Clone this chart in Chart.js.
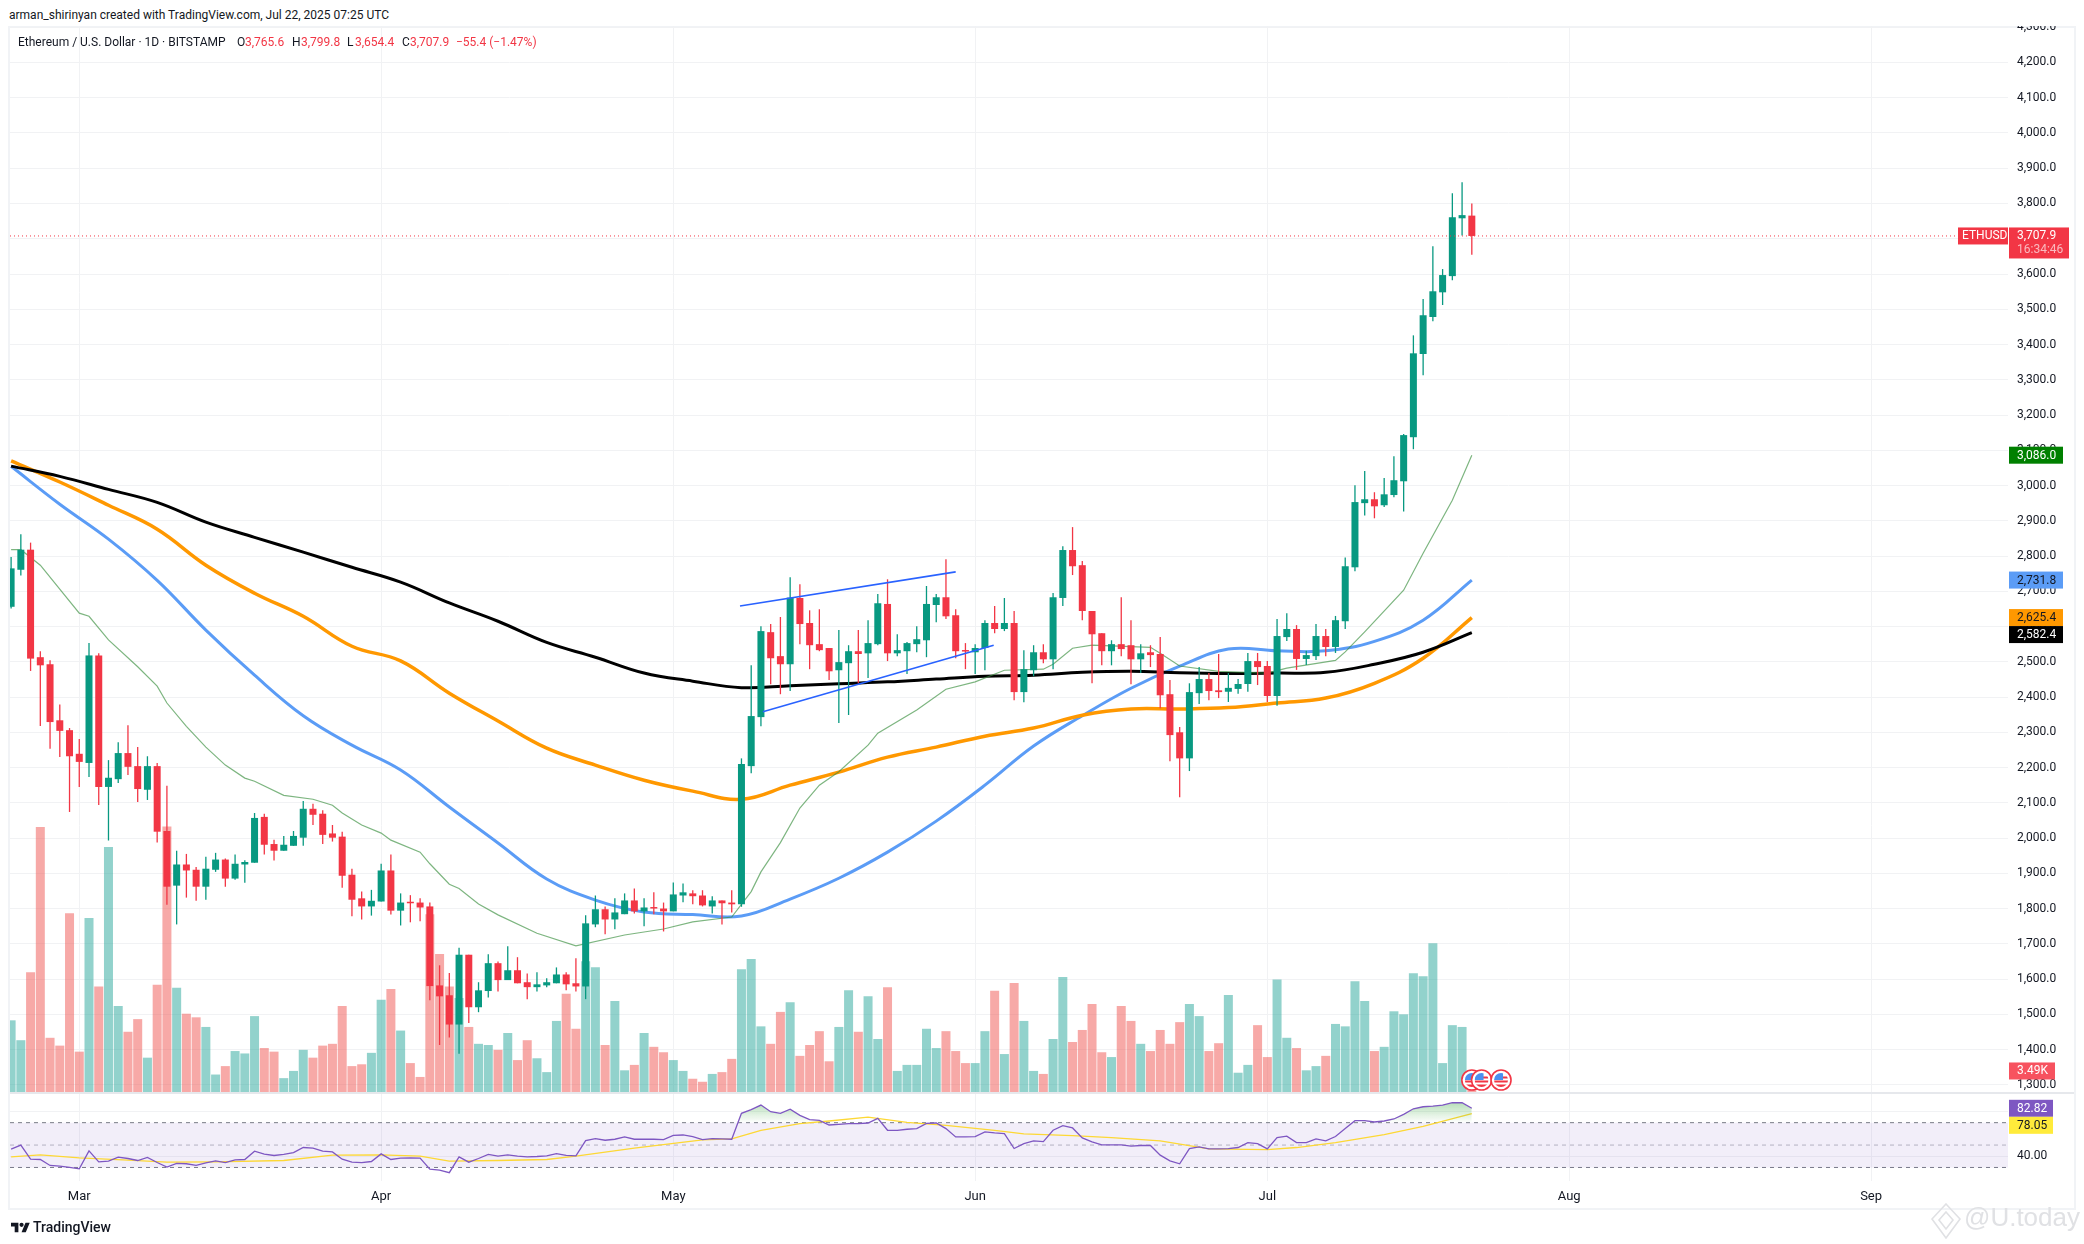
<!DOCTYPE html>
<html>
<head>
<meta charset="utf-8">
<title>Ethereum / U.S. Dollar</title>
<script src="https://cdn.jsdelivr.net/npm/chart.js@4/dist/chart.umd.min.js"></script>
<style>
  html, body { margin: 0; padding: 0; background: #fff; }
  body { width: 2084px; height: 1244px; position: relative; overflow: hidden; font-family: Roboto, sans-serif; color: #131722; }
  canvas { position: absolute; left: 0; }
  .frame { position: absolute; left: 8px; top: 26px; width: 2064px; height: 1180px; border: 2px solid #f1f3f6; }
  .sep { position: absolute; left: 10px; top: 1092px; width: 2064px; height: 2px; background: #e6e8ec; }
  .t { position: absolute; font-size: 12px; line-height: 16px; white-space: pre; }
  .r { color: #f23645; }
</style>
</head>
<body>
<div class="frame"></div>
<canvas id="price-chart" width="2084" height="1067" style="top:26px"></canvas>
<div class="sep"></div>
<canvas id="rsi-chart" width="2084" height="151" style="top:1093px"></canvas>

<div class="t" style="left:9px;top:7px">arman_shirinyan created with TradingView.com, Jul 22, 2025 07:25 UTC</div>
<div class="t" style="left:18px;top:34px">Ethereum / U.S. Dollar · 1D · BITSTAMP</div>
<div class="t" style="left:237px;top:34px">O</div><div class="t r" style="left:245px;top:34px">3,765.6</div>
<div class="t" style="left:292px;top:34px">H</div><div class="t r" style="left:301px;top:34px">3,799.8</div>
<div class="t" style="left:347px;top:34px">L</div><div class="t r" style="left:355px;top:34px">3,654.4</div>
<div class="t" style="left:402px;top:34px">C</div><div class="t r" style="left:410px;top:34px">3,707.9</div>
<div class="t r" style="left:456px;top:34px">−55.4 (−1.47%)</div>

<svg style="position:absolute;left:11px;top:1221px" width="19" height="13" viewBox="0 2 36 22"><path d="M14 22H7V11H0V4h14v18zM28 22h-8l7.5-18h8L28 22z" fill="#131722"/><circle cx="20" cy="8" r="4" fill="#131722"/></svg>
<div class="t" style="left:33px;top:1219px;font-size:14px;font-weight:500">TradingView</div>

<svg style="position:absolute;left:1930px;top:1203px" width="32" height="36" viewBox="0 0 32 36" fill="none" stroke="#e0e1e4" stroke-width="1.6"><path d="M16 1l14 15-14 19L2 16z"/><path d="M16 9l7 8-7 9-7-9z"/></svg>
<div style="position:absolute;left:1964px;top:1201px;font:26px/32px 'Liberation Sans',sans-serif;color:#e0e1e4;white-space:pre">@U.today</div>

<script>
// ─── Data ───────────────────────────────────────────────────────────────────

// candles run day by day from Feb 22 (day 0) to Jul 22 (day 150)
const opens = [
  2656, 2761, 2818, 2513, 2493, 2334, 2306, 2239, 2213, 2518, 2145, 2167, 2241, 2204, 2137, 2204,
  2020, 1865, 1925, 1910, 1862, 1910, 1939, 1885, 1925, 1930, 2060, 1983, 1964, 1978, 2001, 2083,
  2069, 2013, 2004, 1896, 1829, 1806, 1820, 1908, 1794, 1817, 1817, 1806, 1582, 1554, 1471, 1669,
  1520, 1566, 1645, 1597, 1625, 1591, 1577, 1582, 1588, 1613, 1588, 1579, 1755, 1798, 1769, 1784,
  1823, 1792, 1803, 1800, 1792, 1837, 1843, 1837, 1806, 1823, 1817, 1812, 2204, 2343, 2584, 2516,
  2493, 2681, 2610, 2550, 2539, 2476, 2496, 2530, 2524, 2550, 2664, 2524, 2530, 2550, 2561, 2661,
  2683, 2632, 2532, 2527, 2539, 2610, 2593, 2610, 2414, 2476, 2527, 2507, 2681, 2817, 2774, 2644,
  2581, 2530, 2550, 2547, 2507, 2527, 2522, 2408, 2300, 2226, 2411, 2451, 2419, 2415, 2423, 2437,
  2502, 2488, 2403, 2570, 2593, 2508, 2516, 2573, 2542, 2615, 2768, 2950, 2961, 2944, 2973, 3012,
  3137, 3373, 3478, 3548, 3594, 3758, 3765.6,
];
const highs = [
  2797, 2862, 2838, 2530, 2504, 2379, 2312, 2281, 2553, 2524, 2221, 2272, 2320, 2258, 2232, 2213,
  2148, 1964, 1955, 1918, 1947, 1958, 1942, 1953, 1937, 2071, 2069, 1995, 2006, 2020, 2105, 2097,
  2079, 2037, 2018, 1913, 1848, 1853, 1927, 1953, 1843, 1838, 1829, 1817, 1639, 1617, 1689, 1669,
  1591, 1670, 1650, 1693, 1662, 1616, 1619, 1602, 1633, 1619, 1659, 1781, 1837, 1806, 1829, 1843,
  1857, 1829, 1846, 1817, 1874, 1871, 1852, 1852, 1835, 1823, 1852, 2226, 2490, 2601, 2607, 2627,
  2740, 2720, 2646, 2649, 2539, 2590, 2547, 2590, 2618, 2692, 2734, 2578, 2556, 2601, 2715, 2692,
  2791, 2649, 2553, 2550, 2618, 2658, 2681, 2644, 2533, 2547, 2550, 2695, 2828, 2882, 2786, 2644,
  2581, 2561, 2683, 2618, 2550, 2547, 2570, 2448, 2315, 2439, 2485, 2468, 2522, 2468, 2451, 2525,
  2525, 2502, 2621, 2638, 2604, 2531, 2607, 2593, 2630, 2796, 3001, 3041, 2981, 3021, 3083, 3146,
  3426, 3529, 3679, 3614, 3829, 3860, 3799.8,
];
const lows = [
  2651, 2745, 2474, 2318, 2253, 2230, 2074, 2145, 2173, 2094, 1993, 2156, 2179, 2102, 2108, 1987,
  1811, 1755, 1831, 1822, 1825, 1904, 1862, 1882, 1873, 1930, 1953, 1936, 1964, 1978, 1978, 2037,
  1983, 1990, 1859, 1778, 1769, 1780, 1820, 1783, 1752, 1761, 1764, 1540, 1413, 1434, 1388, 1475,
  1506, 1548, 1565, 1597, 1588, 1543, 1565, 1577, 1588, 1568, 1565, 1543, 1747, 1727, 1741, 1784,
  1786, 1750, 1784, 1735, 1792, 1818, 1812, 1806, 1786, 1755, 1789, 1805, 2184, 2317, 2436, 2408,
  2417, 2550, 2479, 2530, 2448, 2326, 2349, 2439, 2454, 2547, 2502, 2516, 2465, 2527, 2513, 2612,
  2621, 2510, 2479, 2465, 2476, 2581, 2587, 2391, 2385, 2459, 2496, 2479, 2658, 2746, 2618, 2439,
  2490, 2490, 2516, 2436, 2468, 2485, 2368, 2218, 2116, 2190, 2380, 2391, 2397, 2386, 2409, 2415,
  2434, 2386, 2375, 2559, 2477, 2491, 2505, 2516, 2525, 2593, 2757, 2915, 2907, 2939, 2967, 2926,
  3103, 3313, 3466, 3512, 3582, 3709, 3654.4,
];
const closes = [
  2765, 2818, 2509, 2490, 2329, 2304, 2232, 2216, 2518, 2145, 2171, 2241, 2202, 2139, 2204, 2018,
  1862, 1925, 1908, 1862, 1913, 1939, 1885, 1927, 1932, 2057, 1981, 1964, 1981, 2006, 2083, 2066,
  2009, 2001, 1893, 1825, 1806, 1822, 1908, 1794, 1817, 1815, 1803, 1580, 1551, 1471, 1669, 1520,
  1568, 1645, 1597, 1625, 1588, 1577, 1585, 1591, 1613, 1585, 1579, 1758, 1798, 1769, 1789, 1823,
  1792, 1803, 1800, 1792, 1840, 1846, 1835, 1809, 1823, 1815, 1812, 2210, 2346, 2587, 2510, 2493,
  2682, 2607, 2547, 2533, 2473, 2499, 2530, 2522, 2553, 2666, 2524, 2533, 2553, 2564, 2664, 2683,
  2629, 2530, 2529, 2539, 2610, 2593, 2610, 2414, 2479, 2527, 2507, 2683, 2817, 2771, 2644, 2578,
  2530, 2550, 2536, 2507, 2524, 2519, 2405, 2292, 2226, 2414, 2451, 2417, 2414, 2426, 2437, 2502,
  2485, 2403, 2573, 2593, 2508, 2519, 2573, 2542, 2618, 2771, 2953, 2961, 2941, 2975, 3015, 3143,
  3375, 3483, 3551, 3597, 3761, 3767, 3707.9,
];
// volume in thousands of ETH
const volumes = [
  11.9, 8.6, 19.9, 44.0, 9.0, 7.7, 29.7, 6.7, 28.9, 17.5, 40.7, 14.3, 10.0, 12.1, 5.7, 17.8,
  44.1, 17.3, 13.0, 12.4, 10.8, 2.9, 4.3, 6.8, 6.4, 12.6, 7.3, 6.7, 2.3, 3.5, 7.0, 5.7,
  7.7, 8.0, 14.3, 4.3, 4.6, 6.5, 15.3, 17.1, 10.2, 4.8, 2.5, 29.5, 22.9, 17.5, 15.6, 10.8,
  8.0, 7.8, 7.0, 9.8, 5.3, 8.6, 5.6, 3.3, 11.8, 16.3, 10.5, 21.7, 20.7, 7.8, 15.1, 3.6,
  4.5, 9.8, 7.5, 6.6, 5.3, 3.5, 2.2, 1.7, 3.0, 3.3, 5.5, 20.4, 22.1, 10.9, 8.0, 13.3,
  14.9, 6.0, 7.8, 10.1, 5.1, 10.8, 16.9, 10.0, 15.9, 8.8, 17.4, 3.5, 4.5, 4.5, 10.5, 7.3,
  10.1, 6.8, 4.8, 4.8, 10.1, 16.8, 6.3, 18.1, 11.8, 3.5, 3.0, 8.8, 19.1, 8.3, 10.3, 14.6,
  6.6, 5.8, 14.3, 11.8, 8.0, 6.8, 10.3, 8.0, 11.6, 14.6, 12.6, 6.8, 8.1, 16.1, 3.2, 4.5,
  11.1, 5.8, 18.7, 9.0, 7.3, 3.6, 4.3, 6.0, 11.3, 10.9, 18.4, 15.1, 6.8, 7.5, 13.4, 12.9,
  19.7, 19.2, 24.7, 4.8, 11.1, 10.8, 3.49,
];

const maDays = [
  0, 5, 10, 15, 20, 25, 30, 35, 40, 45, 50, 55, 60, 65, 70, 75,
  80, 85, 90, 95, 100, 105, 110, 115, 120, 125, 130, 135, 140, 145, 150,
];
const maBlue = [
  3054.5, 2947, 2848, 2731, 2590, 2462, 2347, 2263.5, 2193, 2088, 1986, 1884, 1824, 1790, 1783, 1779,
  1827, 1886, 1960, 2048, 2150, 2261, 2347, 2425, 2487.5, 2536, 2531, 2531, 2558, 2618, 2731.8,
];
const maOrange = [
  3070, 3010, 2944, 2876, 2774, 2694.5, 2629, 2544, 2502.5, 2411, 2332, 2255, 2207, 2164, 2133, 2110,
  2150, 2187, 2229.5, 2258, 2289, 2312, 2348.5, 2366, 2366, 2370, 2383, 2397, 2439, 2510, 2625.4,
];
const maBlack = [
  3055, 3026, 2989, 2952, 2896, 2853, 2811, 2768, 2726, 2667, 2615, 2555, 2513, 2468, 2445, 2426.5,
  2432, 2438, 2443, 2451, 2459, 2462, 2470, 2473, 2469, 2467, 2468, 2470, 2493, 2527, 2582.4,
];
const emaDays = [
  0, 1, 3, 7, 8, 10, 13, 15, 16, 18, 20, 22, 24, 25, 28, 31, 33, 34, 36, 38, 39, 42, 43, 45, 46, 48, 50,
  54, 58, 63, 67, 70, 74, 76, 77, 79, 81, 83, 85, 88, 89, 93, 96, 99, 102, 106, 107, 109, 111, 117, 118,
  120, 124, 129, 131, 136, 137, 139, 143, 145, 148, 150,
];
const emaGreen = [
  2818, 2818, 2774, 2638, 2629, 2562, 2486, 2431, 2383, 2317, 2258, 2207, 2170, 2161, 2121, 2110, 2093, 2071,
  2037, 2014, 1994, 1960, 1927, 1869, 1857, 1813, 1782, 1730, 1694, 1725, 1742, 1762, 1776, 1848, 1904, 1987,
  2085, 2150, 2188, 2263.5, 2297.5, 2363, 2422, 2443, 2476, 2479, 2493, 2538.5, 2547, 2541, 2524, 2488, 2473,
  2468, 2482, 2504, 2528, 2585, 2703, 2808, 2958, 3086,
];

// hand-drawn channel, [day, price] of each end
const channelTopDays = [74.85, 97.0];
const channelTopPrices = [2658.4, 2755];
const channelLowDays = [77.2, 100.9];
const channelLowPrices = [2358, 2547];

const rsiValues = [
  46.3, 49.9, 37.4, 37.1, 31.8, 31.2, 30.0, 28.8, 44.8, 35.0, 35.6, 39.2, 38.0, 36.2, 38.9, 34.4,
  30.3, 33.6, 33.3, 31.8, 34.1, 35.9, 34.4, 36.8, 37.1, 44.5, 41.9, 40.7, 41.6, 43.3, 47.8, 47.2,
  44.5, 43.9, 37.4, 34.7, 34.4, 35.3, 42.1, 37.1, 38.3, 38.6, 38.3, 28.5, 27.6, 25.3, 39.5, 34.7,
  38.0, 41.6, 40.1, 41.3, 40.1, 39.5, 39.8, 40.4, 42.4, 40.7, 40.4, 54.0, 55.8, 54.3, 55.2, 57.3,
  55.2, 55.2, 55.2, 54.9, 58.7, 59.0, 57.6, 54.9, 55.8, 55.5, 55.2, 78.3, 81.6, 85.7, 79.8, 78.3,
  82.1, 76.5, 72.7, 72.1, 67.9, 68.5, 69.1, 69.1, 69.7, 73.9, 63.2, 63.2, 64.1, 64.7, 69.4, 69.7,
  64.7, 57.3, 57.3, 57.6, 61.7, 60.8, 60.2, 46.9, 51.3, 53.7, 53.1, 63.2, 67.3, 65.3, 56.4, 52.8,
  50.1, 50.1, 50.1, 49.0, 49.6, 49.6, 41.0, 35.9, 33.3, 46.9, 48.4, 46.6, 46.6, 46.9, 47.8, 52.2,
  51.3, 46.6, 56.7, 57.9, 52.2, 52.2, 55.5, 53.7, 57.6, 64.7, 71.8, 71.8, 70.6, 71.5, 73.3, 77.4,
  82.4, 84.2, 84.8, 85.7, 87.8, 87.8, 82.82,
];
const rsiMaDays = [
  0, 3, 7, 12, 16, 21, 28, 33, 38, 42, 45, 50, 55, 58, 64, 71, 74, 77, 81, 84, 88, 92, 96, 101,
  104, 109, 113, 118, 123, 129, 132, 136, 141, 145, 150,
];
const rsiMaValues = [
  39.5, 41.3, 38.6, 36.5, 34.7, 35.0, 36.2, 41.0, 41.3, 40.1, 35.6, 36.2, 37.1, 40.1, 47.2, 54.6, 55.5, 63.2, 69.1, 71.5, 75.0, 70.3, 67.6, 63.2,
  59.9, 58.4, 56.7, 53.7, 46.6, 46.0, 47.8, 52.2, 59.3, 66.7, 78.05,
];
const rsiBands = [70, 50, 30];

const priceTicks = [
  1300, 1400, 1500, 1600, 1700, 1800, 1900, 2000, 2100, 2200, 2300, 2400, 2500, 2600, 2700,
  2800, 2900, 3000, 3100, 3200, 3300, 3400, 3500, 3600, 3700, 3800, 3900, 4000, 4100, 4200, 4300,
];
const rsiTicks = [40, 80];
const monthDays = [7, 38, 68, 99, 129, 160, 191];
const monthLabels = ["Mar", "Apr", "May", "Jun", "Jul", "Aug", "Sep"];
const eventDays = [150, 151, 153];

// ─── Shared helpers ─────────────────────────────────────────────────────────

const UP = "#089981";
const DOWN = "#f23645";
const FONT = "Roboto";
const DAY_MIN = -0.113;
const DAY_MAX = 205.06;

Chart.defaults.font.family = FONT;
Chart.defaults.font.size = 12;
Chart.defaults.color = "#131722";

const days = opens.map((_, i) => i);
const isUp = (i) => closes[i] >= opens[i];
const toPoints = (xs, ys) => xs.map((x, i) => ({ x, y: ys[i] }));
const fmtPrice = (v) =>
  v.toLocaleString("en-US", { minimumFractionDigits: 1, maximumFractionDigits: 1 });

// scales would otherwise reserve room for half a tick label on each end
function noScalePadding(s) {
  s.paddingTop = 0;
  s.paddingBottom = 0;
  s.paddingLeft = 0;
  s.paddingRight = 0;
}

function lineSet(data, color, width, order, extra) {
  return Object.assign(
    { type: "line", data, borderColor: color, borderWidth: width, pointRadius: 0, tension: 0, fill: false, order, yAxisID: "y" },
    extra,
  );
}

function barSet(data, colors, thickness, order, extra) {
  return Object.assign(
    {
      data,
      backgroundColor: colors,
      borderWidth: 0,
      inflateAmount: 0,
      grouped: false,
      barPercentage: 1,
      categoryPercentage: 1,
      maxBarThickness: thickness,
      order,
      yAxisID: "y",
    },
    extra,
  );
}

function xScale(showLabels) {
  return {
    type: "linear",
    offset: false,
    min: DAY_MIN,
    max: DAY_MAX,
    border: { display: false },
    grid: { offset: false, color: "#f1f2f4", lineWidth: 1, drawTicks: false },
    ticks: {
      display: showLabels,
      autoSkip: false,
      maxRotation: 0,
      padding: 8,
      font: { size: 13 },
      callback: (v) => monthLabels[monthDays.indexOf(v)] || "",
    },
    afterBuildTicks: (s) => { s.ticks = monthDays.map((value) => ({ value })); },
    afterFit: (s) => {
      s.height = showLabels ? 27 : 0;
      noScalePadding(s);
    },
  };
}

function rightScale(min, max, ticks, format) {
  return {
    type: "linear",
    offset: false,
    position: "right",
    min,
    max,
    border: { display: false },
    grid: { offset: false, color: "#f1f2f4", lineWidth: 1, drawTicks: false },
    ticks: { autoSkip: false, padding: 9, callback: format },
    afterBuildTicks: (s) => { s.ticks = ticks.map((value) => ({ value })); },
    afterFit: (s) => {
      s.width = 76;
      noScalePadding(s);
    },
  };
}

function drawTag(ctx, left, top, width, height, bg, fg, label, inset = 8) {
  ctx.fillStyle = bg;
  ctx.fillRect(left, top, width, height);
  ctx.fillStyle = fg;
  ctx.font = `12px ${FONT}`;
  ctx.textAlign = "left";
  ctx.textBaseline = "middle";
  ctx.fillText(label, left + inset, top + height / 2 + 0.5);
}

// price tags on the axis, pushed apart when they would overlap
function drawTags(chart, tags, scaleId, width) {
  const scale = chart.scales[scaleId];
  const h = 17;
  let lastBottom = -Infinity;
  tags.forEach((tag) => {
    const top = Math.max(scale.getPixelForValue(tag.value) - h / 2, lastBottom);
    drawTag(chart.ctx, chart.chartArea.right + 1, top, width, h, tag.bg, tag.fg, tag.label);
    lastBottom = top + h;
  });
}

function drawFlag(ctx, x, y) {
  ctx.save();
  ctx.beginPath();
  ctx.arc(x, y, 10, 0, Math.PI * 2);
  ctx.fillStyle = "#fff";
  ctx.fill();
  ctx.lineWidth = 1.6;
  ctx.strokeStyle = DOWN;
  ctx.stroke();
  ctx.beginPath();
  ctx.arc(x, y, 7, 0, Math.PI * 2);
  ctx.clip();
  ctx.fillStyle = DOWN;
  ctx.fillRect(x - 7, y + 0.5, 14, 2);
  ctx.fillRect(x - 7, y + 4.5, 14, 2.5);
  ctx.fillRect(x + 1, y - 3.5, 6, 2);
  ctx.fillStyle = "#4a90f0";
  ctx.fillRect(x - 7, y - 7, 9, 7);
  ctx.restore();
}

// ─── Price pane ─────────────────────────────────────────────────────────────

const priceTags = [
  { value: emaGreen[emaGreen.length - 1], bg: "#008000", fg: "#fff" },
  { value: maBlue[maBlue.length - 1], bg: "#5b9cf6", fg: "#131722" },
  { value: maOrange[maOrange.length - 1], bg: "#ff9800", fg: "#131722" },
  { value: maBlack[maBlack.length - 1], bg: "#000", fg: "#fff" },
].map((t) => ({ ...t, label: fmtPrice(t.value) }));

const tagPlugin = {
  id: "tags",
  afterDraw(chart) {
    const { ctx, scales, chartArea } = chart;
    eventDays.forEach((d) => drawFlag(ctx, scales.x.getPixelForValue(d), chartArea.bottom - 12));

    drawTags(chart, priceTags, "y", 54);

    // volume tag
    const lastVol = volumes[volumes.length - 1];
    const volY = scales.v.getPixelForValue(lastVol);
    drawTag(ctx, chartArea.right + 1, volY - 8.5, 46, 17, "#f7525f", "#fff", lastVol.toFixed(2) + "K");

    // last close with countdown, plus the symbol name on its left
    const close = closes[closes.length - 1];
    const y = scales.y.getPixelForValue(close);
    drawTag(ctx, chartArea.right - 50, y - 8.5, 50, 17, DOWN, "#fff", "ETHUSD", 4);
    ctx.fillStyle = DOWN;
    ctx.fillRect(chartArea.right + 1, y - 8.5, 60, 31);
    ctx.fillStyle = "#fff";
    ctx.textAlign = "left";
    ctx.font = `12px ${FONT}`;
    ctx.fillText(fmtPrice(close), chartArea.right + 9, y);
    ctx.fillStyle = "rgba(255,255,255,.65)";
    ctx.fillText("16:34:46", chartArea.right + 9, y + 14);
  },
};

new Chart(document.getElementById("price-chart"), {
  type: "bar",
  data: {
    datasets: [
      barSet(
        toPoints(days, volumes),
        days.map((i) => (isUp(i) ? "rgba(38,166,154,.5)" : "rgba(239,83,80,.5)")),
        9,
        6,
        { yAxisID: "v" },
      ),
      lineSet(toPoints(emaDays, emaGreen), "rgba(56,142,60,.65)", 1.2, 5),
      lineSet(toPoints(maDays, maBlack), "#000", 3, 5, { tension: 0.4 }),
      lineSet(toPoints(maDays, maOrange), "#ff9800", 3.5, 5, { tension: 0.4 }),
      lineSet(toPoints(maDays, maBlue), "#5b9cf6", 3, 5, { tension: 0.4 }),
      barSet(
        days.map((i) => ({ x: i, y: [lows[i], highs[i]] })),
        days.map((i) => (isUp(i) ? UP : DOWN)),
        1.3,
        3,
      ),
      barSet(
        days.map((i) => ({ x: i, y: [opens[i], closes[i]] })),
        days.map((i) => (isUp(i) ? UP : DOWN)),
        7,
        2,
        { minBarLength: 1.5 },
      ),
      lineSet(toPoints(channelTopDays, channelTopPrices), "#2962ff", 1.6, 1),
      lineSet(toPoints(channelLowDays, channelLowPrices), "#2962ff", 1.6, 1),
      lineSet(
        toPoints([DAY_MIN, DAY_MAX], [closes[150], closes[150]]),
        DOWN,
        1,
        1,
        { borderDash: [1, 3] },
      ),
    ],
  },
  options: {
    responsive: false,
    animation: false,
    devicePixelRatio: 1,
    layout: { autoPadding: false, padding: { left: 10, right: 0, top: 0, bottom: 1 } },
    plugins: { legend: { display: false }, tooltip: { enabled: false } },
    scales: {
      x: xScale(false),
      y: rightScale(1279.6, 4303.5, priceTicks, fmtPrice),
      v: { display: false, offset: false, min: 0, max: 177 },
    },
  },
  plugins: [tagPlugin],
});

// ─── RSI pane ───────────────────────────────────────────────────────────────

const rsiCanvas = document.getElementById("rsi-chart");
const overbought = rsiCanvas.getContext("2d").createLinearGradient(0, 7, 0, 30);
overbought.addColorStop(0, "rgba(76,175,80,.45)");
overbought.addColorStop(1, "rgba(76,175,80,0)");

const rsiTagPlugin = {
  id: "rsiTags",
  afterDraw(chart) {
    drawTags(
      chart,
      [
        { value: rsiValues[150], bg: "#7e57c2", fg: "#fff", label: rsiValues[150].toFixed(2) },
        { value: rsiMaValues[rsiMaValues.length - 1], bg: "#ffeb3b", fg: "#131722", label: rsiMaValues[rsiMaValues.length - 1].toFixed(2) },
      ],
      "y",
      44,
    );
  },
};

new Chart(rsiCanvas, {
  type: "line",
  data: {
    datasets: [
      lineSet(toPoints([DAY_MIN, DAY_MAX], [rsiBands[0], rsiBands[0]]), "#787b86", 1, 5, {
        borderDash: [4, 4],
        fill: { target: { value: rsiBands[2] } },
        backgroundColor: "rgba(126,87,194,.1)",
      }),
      lineSet(toPoints([DAY_MIN, DAY_MAX], [rsiBands[1], rsiBands[1]]), "rgba(120,123,134,.5)", 1, 5, { borderDash: [4, 4] }),
      lineSet(toPoints([DAY_MIN, DAY_MAX], [rsiBands[2], rsiBands[2]]), "#787b86", 1, 5, { borderDash: [4, 4] }),
      lineSet(toPoints(rsiMaDays, rsiMaValues), "#fdd835", 1.3, 3),
      lineSet(toPoints(days, rsiValues), "#7e57c2", 1.3, 2, {
        fill: { target: { value: rsiBands[0] }, above: overbought, below: "rgba(0,0,0,0)" },
      }),
    ],
  },
  options: {
    responsive: false,
    animation: false,
    devicePixelRatio: 1,
    layout: { autoPadding: false, padding: { left: 10, right: 0, top: 1, bottom: 36 } },
    plugins: { legend: { display: false }, tooltip: { enabled: false } },
    scales: {
      x: xScale(true),
      y: rightScale(17.9, 95.6, rsiTicks, (v) => v.toFixed(2)),
    },
  },
  plugins: [rsiTagPlugin],
});
</script>
</body>
</html>
